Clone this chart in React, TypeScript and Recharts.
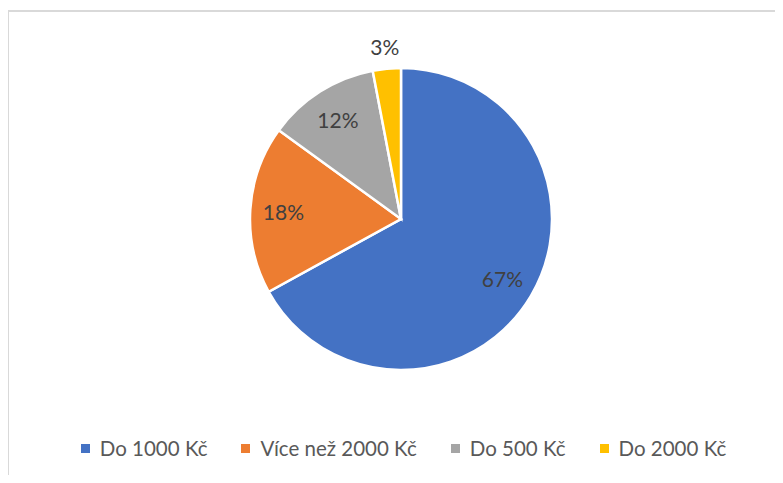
import { PieChart, Pie, Cell, Legend } from 'recharts';

const categories = ['Do 1000 Kč', 'Více než 2000 Kč', 'Do 500 Kč', 'Do 2000 Kč'];
const shares = [67, 18, 12, 3];
const colors = ['#4472C4', '#ED7D31', '#A5A5A5', '#FFC000'];

const chartData = categories.map((name, i) => ({ name, value: shares[i] }));

const FONT = 'Lato, "Open Sans", sans-serif';

// Excel-like "best fit": big slices get inside labels, tiny ones go outside
const renderLabel = ({ cx, cy, midAngle, outerRadius, percent }: any) => {
  const RADIAN = Math.PI / 180;
  const r = percent < 0.05 ? outerRadius + 22 : outerRadius * 0.78;
  const x = cx + r * Math.cos(-midAngle * RADIAN);
  const y = cy + r * Math.sin(-midAngle * RADIAN);
  return (
    <text
      x={x}
      y={y}
      textAnchor="middle"
      dominantBaseline="central"
      fill="#404040"
      fontSize={21}
      fontFamily={FONT}
    >
      {`${Math.round(percent * 100)}%`}
    </text>
  );
};

const renderLegend = () => (
  <div
    style={{
      display: 'flex',
      justifyContent: 'center',
      alignItems: 'center',
      gap: 34,
      fontFamily: FONT,
      fontSize: 20.5,
      color: '#595959',
      paddingLeft: 24,
    }}
  >
    {categories.map((name, i) => (
      <div key={name} style={{ display: 'flex', alignItems: 'center' }}>
        <span
          style={{
            display: 'inline-block',
            width: 9,
            height: 9,
            background: colors[i],
            marginRight: 10,
          }}
        />
        <span>{name}</span>
      </div>
    ))}
  </div>
);

export default function App() {
  return (
    <div style={{ position: 'relative', width: 783, height: 483, margin: -8, background: '#fff', overflow: 'hidden' }}>
      <div
        style={{
          position: 'absolute',
          left: 7,
          top: 10,
          right: 0,
          bottom: 0,
          borderTop: '2px solid #d9d9d9',
          borderLeft: '2px solid #d9d9d9',
        }}
      />
      <PieChart
        width={783}
        height={483}
        margin={{ top: 0, right: 0, bottom: 0, left: 0 }}
        style={{ position: 'absolute', left: 0, top: 0 }}
      >
        <Pie
          data={chartData}
          dataKey="value"
          nameKey="name"
          cx={401}
          cy={219}
          outerRadius={151}
          startAngle={90}
          endAngle={-270}
          stroke="#ffffff"
          strokeWidth={2.5}
          label={renderLabel}
          labelLine={false}
          isAnimationActive={false}
        >
          {chartData.map((entry, index) => (
            <Cell key={`cell-${index}`} fill={colors[index]} />
          ))}
        </Pie>
        <Legend
          content={renderLegend}
          wrapperStyle={{ position: 'absolute', top: 436, left: 0, width: 783 }}
        />
      </PieChart>
    </div>
  );
}
